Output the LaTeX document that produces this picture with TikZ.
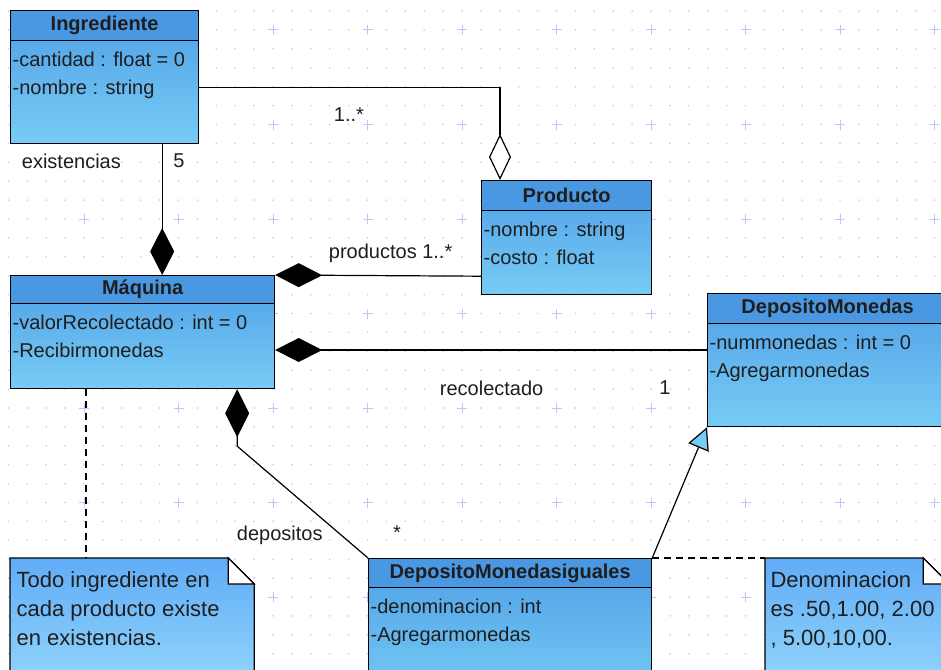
\documentclass[tikz,border=0pt]{standalone}
\usepackage{fontspec}
\setmainfont{Liberation Sans}
\usetikzlibrary{arrows.meta}

\definecolor{headblue}{HTML}{4A97E2}
\definecolor{bodytop}{HTML}{4E9FE6}
\definecolor{bodybot}{HTML}{77CCF5}
\definecolor{notetop}{HTML}{60ACF7}
\definecolor{notebot}{HTML}{99DBFC}
\definecolor{griddot}{HTML}{CFCFF0}
\definecolor{gridplus}{HTML}{C4C4F4}
\definecolor{ink}{HTML}{1E1E1E}

\begin{document}
\begin{tikzpicture}[x=1pt, y=-1pt, line width=1.2pt, text=ink, font=\fontsize{20}{28}\selectfont]
            \tikzstyle{classbox}=[draw=black, anchor=north west, inner sep=0pt, top color=bodytop, bottom color=bodybot]
            \tikzstyle{classhead}=[draw=black, anchor=north west, inner sep=0pt, fill=headblue, minimum height=29pt, font=\fontsize{20}{24}\selectfont\bfseries]
            \tikzstyle{attrs}=[anchor=north west, align=left, inner xsep=2pt, inner ysep=0pt]
            \tikzstyle{notebox}=[anchor=north west, inner sep=0pt]
            \tikzstyle{notetext}=[anchor=north west, align=left, inner xsep=6pt, inner ysep=12.5pt, font=\fontsize{22}{29}\selectfont]
            \tikzstyle{comp}=[-{Diamond[length=47pt, width=24pt]}]
            \tikzstyle{agg}=[-{Diamond[open, fill=white, length=46pt, width=22pt]}]
            \tikzstyle{gen}=[-{Triangle[open, fill=bodybot, length=22pt, width=22pt]}]
            \tikzstyle{link}=[dash pattern=on 7pt off 5pt]

            \useasboundingbox (0,0) rectangle (941,669);
            \clip (0,0) rectangle (941,669);
            \fill[white] (0,0) rectangle (941,669);

            % grid
            \foreach \i in {0,...,49}
                \foreach \j in {0,...,34}
                    \fill[griddot] (8.4+18.9*\i, 11.1+18.9*\j) circle (1pt);
            \foreach \i in {0,...,9}
                \foreach \j in {0,...,6}
                    \draw[gridplus, line width=1pt] (79+94.5*\i, 30+94.5*\j) -- ++(10,0) (84+94.5*\i, 25+94.5*\j) -- ++(0,10);

            % classes
            \node[classbox, minimum width=188pt, minimum height=133pt] (ingr) at (10,10) {};
            \node[classhead, minimum width=188pt, minimum height=30pt] (ingr-h) at (ingr.north west) {Ingrediente};
            \node[attrs] at ([yshift=-10.5pt]ingr-h.south west) {-cantidad : float = 0\\-nombre : string};

            \node[classbox, minimum width=170pt, minimum height=114pt] (prod) at (481,180) {};
            \node[classhead, minimum width=170pt, minimum height=30pt] (prod-h) at (prod.north west) {Producto};
            \node[attrs] at ([yshift=-10.5pt]prod-h.south west) {-nombre : string\\-costo : float};

            \node[classbox, minimum width=264pt, minimum height=113pt] (maq) at (10,275) {};
            \node[classhead, minimum width=264pt, minimum height=28pt] (maq-h) at (maq.north west) {Máquina};
            \node[attrs] at ([yshift=-10.5pt]maq-h.south west) {-valorRecolectado : int = 0\\-Recibirmonedas};

            \node[classbox, minimum width=240pt, minimum height=133pt] (dep) at (707,293) {};
            \node[classhead, minimum width=240pt, minimum height=30pt] (dep-h) at (dep.north west) {DepositoMonedas};
            \node[attrs] at ([yshift=-10.5pt]dep-h.south west) {-nummonedas : int = 0\\-Agregarmonedas};

            \node[classbox, minimum width=283pt, minimum height=142pt] (depig) at (368,558) {};
            \node[classhead, minimum width=283pt, minimum height=29pt] (depig-h) at (depig.north west) {DepositoMonedasiguales};
            \node[attrs] at ([yshift=-10.5pt]depig-h.south west) {-denominacion : int\\-Agregarmonedas};

            % notes
            \node[notebox, minimum width=243pt, minimum height=142pt] (nota1) at (10,558) {};
            \node[notebox, minimum width=183pt, minimum height=142pt] (nota2) at (765,558) {};
            \foreach \n in {nota1, nota2} {
                \shade[top color=notetop, bottom color=notebot, draw=black] (\n.north west) -- ([xshift=-26pt]\n.north east)
                    -- ([yshift=-26pt]\n.north east) -- (\n.south east) -- (\n.south west) -- cycle;
                \filldraw[fill=white] ([xshift=-26pt]\n.north east) -- ([xshift=-26pt, yshift=-26pt]\n.north east)
                    -- ([yshift=-26pt]\n.north east) -- cycle;
            }
            \node[notetext] at (nota1.north west) {Todo ingrediente en\\cada producto existe\\en existencias.};
            \node[notetext, inner xsep=5pt] at (nota2.north west) {Denominacion\\es .50,1.00, 2.00\\, 5.00,10,00.};

            % connectors
            \coordinate (exist) at ([xshift=-37pt]ingr.south east);
            \coordinate (recol) at ([yshift=-57pt]dep.north west);
            \coordinate (depo) at ([xshift=-38pt]maq.south east);
            \coordinate (n1) at ([xshift=76pt]maq.south west);

            \draw[agg] ([yshift=-10.5pt]ingr.east) -| ([xshift=19pt]prod.north west);
            \draw[comp] (exist) -- (exist |- maq.north);
            \draw[comp] ([yshift=19pt]prod.south west) -- (maq.north east);
            \draw[comp] (recol) -- (recol -| maq.east);
            \draw[{Diamond[length=48pt, width=24pt]}-] (depo) -- ++(0,57) -- (depig.north west);
            \draw[gen] (depig.north east) -- (dep.south west);
            \draw[link] (n1) -- (n1 |- nota1.north);
            \draw[link] (depig.north east) -- (nota2.north west);

            % labels
            \node[anchor=west] (l-ingprod) at (330,115) {1..*};
            \node[anchor=west] (l-exist) at (18,161) {existencias};
            \node (l-cinco) at (179,161) {5};
            \node[anchor=west] (l-prod) at (325,253) {productos 1..*};
            \node[anchor=west] (l-recol) at (436,388) {recolectado};
            \node (l-uno) at (665,388) {1};
            \node[anchor=west] (l-depo) at (233,535) {depositos};
            \node (l-muchos) at (397,533) {*};
        \end{tikzpicture}
\end{document}
